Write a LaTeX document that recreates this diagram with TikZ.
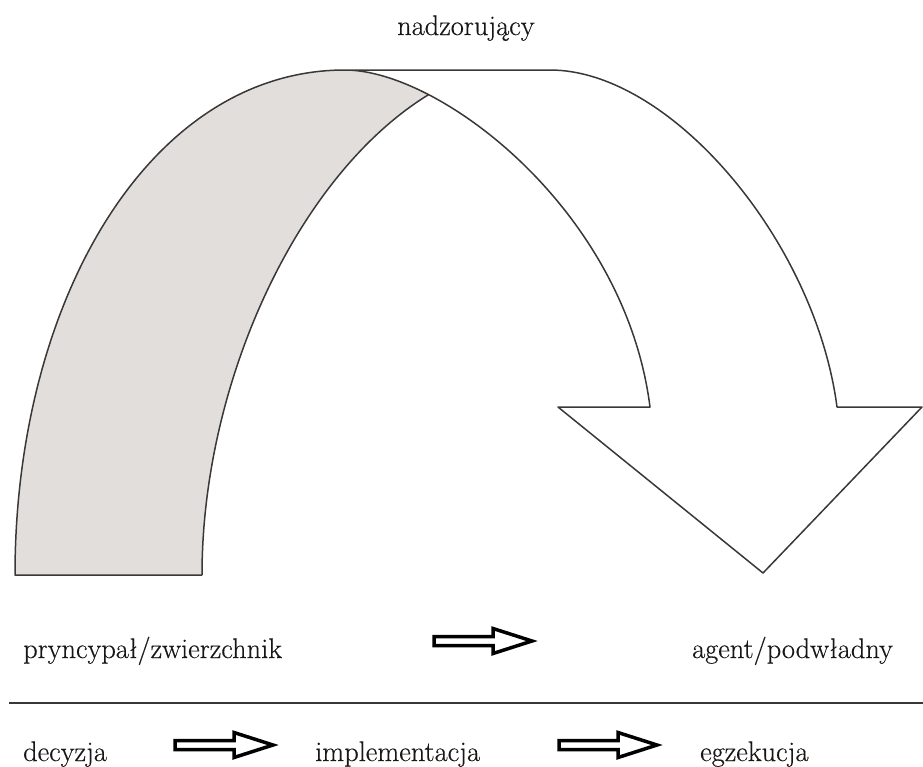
\documentclass[tikz,border=0pt]{standalone}
\usepackage{fontspec}
\newfontfamily\lblfont{Latin Modern Roman}[FakeBold=0.35]
\definecolor{archfill}{RGB}{226,222,220}
\definecolor{outline}{RGB}{60,55,55}
\definecolor{txt}{RGB}{25,22,22}
\begin{document}
\begin{tikzpicture}[x=1pt,y=-1pt,
  outl/.style={draw=outline,line width=1.5pt,line join=round},
  lbl/.style={inner sep=0pt,anchor=base west,text=txt,font=\lblfont\fontsize{28.4}{32}\selectfont},
  blockarr/.pic={\draw[black,fill=white,line width=3.5pt,line join=miter]
      (0,-4.5) -- (59,-4.5) -- (59,-12.5) -- (98,0) -- (59,12.5) -- (59,4.5) -- (0,4.5) -- cycle;}
]
\useasboundingbox (0,0) rectangle (923,766);

% named points of the arch
\coordinate (gl) at (15,575);
\coordinate (gr) at (202,575);
\coordinate (peak) at (345,70);
\coordinate (cross) at (433,92);
\coordinate (topr) at (550,70);
\coordinate (outr) at (837,407);
\coordinate (hr) at (922,407);
\coordinate (tip) at (763,573);
\coordinate (hl) at (558,407);
\coordinate (inr) at (650,407);

% white arrow band
\path[fill=white] (peak) -- (topr) .. controls (670,70) and (815,240) .. (outr)
   -- (hr) -- (tip) -- (hl) -- (inr) .. controls (625,210) and (440,70) .. (peak) -- cycle;

% grey band (clipped to the arch)
\begin{scope}
  \clip (gl) .. controls (15,300) and (150,70) .. (peak)
        .. controls (440,70) and (625,210) .. (inr) -- (650,575) -- cycle;
  \fill[archfill] (gr) .. controls (202,380) and (300,170) .. (cross) -- (480,64)
        -- (0,40) -- (0,575) -- cycle;
  \draw[outl] (gr) .. controls (202,380) and (300,170) .. (cross) -- (480,64);
\end{scope}

% outlines
\draw[outl] (gr) -- (gl) .. controls (15,300) and (150,70) .. (peak)
   .. controls (440,70) and (625,210) .. (inr) -- (hl) -- (tip) -- (hr) -- (outr)
   .. controls (815,240) and (670,70) .. (topr) -- (peak);

% labels
\node[lbl] (nadz) at (397,35) {nadzorujący};
\node[lbl] (pryn) at (23,658) {pryncypał/zwierzchnik};
\node[lbl] (agent) at (692,658) {agent/podwładny};
\node[lbl] (dec) at (23,761) {decyzja};
\node[lbl] (impl) at (315,761) {implementacja};
\node[lbl] (egz) at (700,761) {egzekucja};

% separator
\draw[draw=outline,line width=1.3pt] (9,703) -- (923,703);

% small block arrows
\pic at (434,641) {blockarr};
\pic at (175,745) {blockarr};
\pic at (559,745) {blockarr};
\end{tikzpicture}
\end{document}
